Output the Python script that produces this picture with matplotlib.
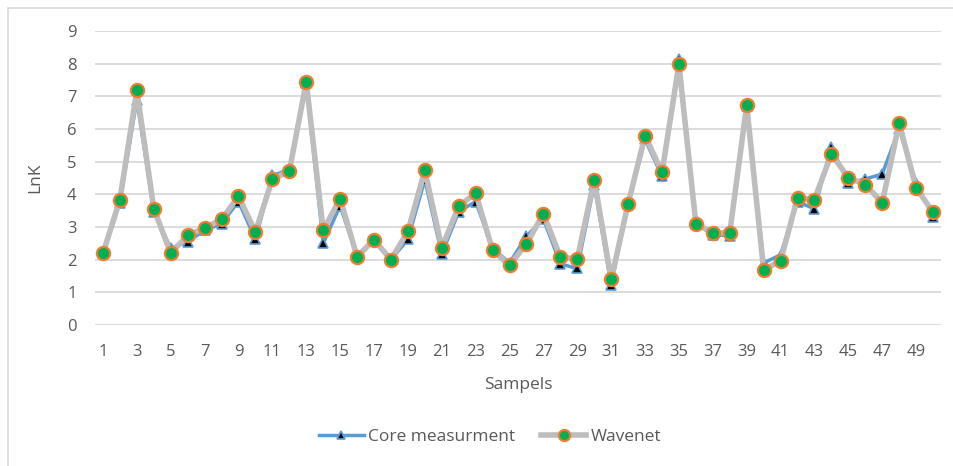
import matplotlib
matplotlib.use("Agg")
import matplotlib.pyplot as plt
from matplotlib.patches import Rectangle

samples = list(range(1, 51))

core = [2.2, 3.75, 6.9, 3.45, 2.35, 2.55, 2.9, 3.1, 3.78, 2.62,
        4.58, 4.75, 7.4, 2.5, 3.65, 2.1, 2.6, 2.0, 2.62, 4.45,
        2.17, 3.47, 3.78, 2.35, 1.9, 2.72, 3.25, 1.87, 1.73, 4.3,
        1.22, 3.7, 5.68, 4.55, 8.15, 3.1, 2.77, 2.73, 6.7, 1.9,
        2.15, 3.77, 3.56, 5.45, 4.35, 4.47, 4.62, 6.0, 4.35, 3.32]

wavenet = [2.19, 3.84, 7.18, 3.56, 2.2, 2.74, 2.97, 3.23, 3.94, 2.85,
           4.47, 4.7, 7.44, 2.9, 3.87, 2.09, 2.61, 2.0, 2.87, 4.73,
           2.37, 3.63, 4.04, 2.29, 1.83, 2.48, 3.41, 2.08, 2.02, 4.45,
           1.4, 3.71, 5.8, 4.67, 7.98, 3.1, 2.82, 2.82, 6.73, 1.68,
           1.97, 3.89, 3.84, 5.24, 4.51, 4.3, 3.74, 6.17, 4.2, 3.45]

x_tick_labels = [str(s) for s in samples[::2]]
y_ticks = list(range(0, 10))

plt.rcParams['font.family'] = ['Open Sans', 'DejaVu Sans']
text_color = '#595959'

fig = plt.figure(figsize=(9.54, 4.66), dpi=100)
W, H = 954, 466

# chart frame (only top and left edges fall inside the canvas)
fig.patches.append(Rectangle((8 / W, -0.1), 1.2, (H - 7.5) / H + 0.1,
                             transform=fig.transFigure, fill=False,
                             edgecolor='#D9D9D9', linewidth=1.2))

ax = fig.add_axes([94.5 / W, (H - 325) / H, (941.5 - 94.5) / W, (325 - 31) / H])
ax.set_xlim(0.5, 50.5)
ax.set_ylim(0, 9)

for spine in ax.spines.values():
    spine.set_visible(False)

ax.set_yticks(y_ticks)
ax.set_yticklabels([str(v) for v in y_ticks])
ax.set_xticks(samples[::2])
ax.set_xticklabels(x_tick_labels)
ax.tick_params(axis='both', length=0, labelsize=12, colors=text_color)
ax.tick_params(axis='y', pad=13)
ax.tick_params(axis='x', pad=14)
ax.grid(axis='y', color='#D9D9D9', linewidth=1.3)
ax.set_axisbelow(True)

ax.plot(samples, core, color='#5B9BD5', linewidth=2.5,
        marker='^', markersize=7, markerfacecolor='black',
        markeredgecolor='#5B9BD5', markeredgewidth=1.2,
        label='Core measurment', zorder=3)
ax.plot(samples, wavenet, color='#BDBDBD', linewidth=4.0,
        marker='o', markersize=9.5, markerfacecolor='#00B050',
        markeredgecolor='#ED7D31', markeredgewidth=1.6,
        label='Wavenet', zorder=4)

ax.set_ylabel('LnK', fontsize=12.5, color=text_color, labelpad=17)
ax.set_xlabel('Sampels', fontsize=12.5, color=text_color, labelpad=12)

leg = fig.legend(loc='center', bbox_to_anchor=(490 / W, 1 - 437 / H), ncol=2,
                 frameon=False, fontsize=12.5, labelcolor=text_color,
                 handlelength=2.6, handletextpad=0.25, columnspacing=1.5,
                 markerscale=0.85)

fig.savefig('out.png', dpi=100)
